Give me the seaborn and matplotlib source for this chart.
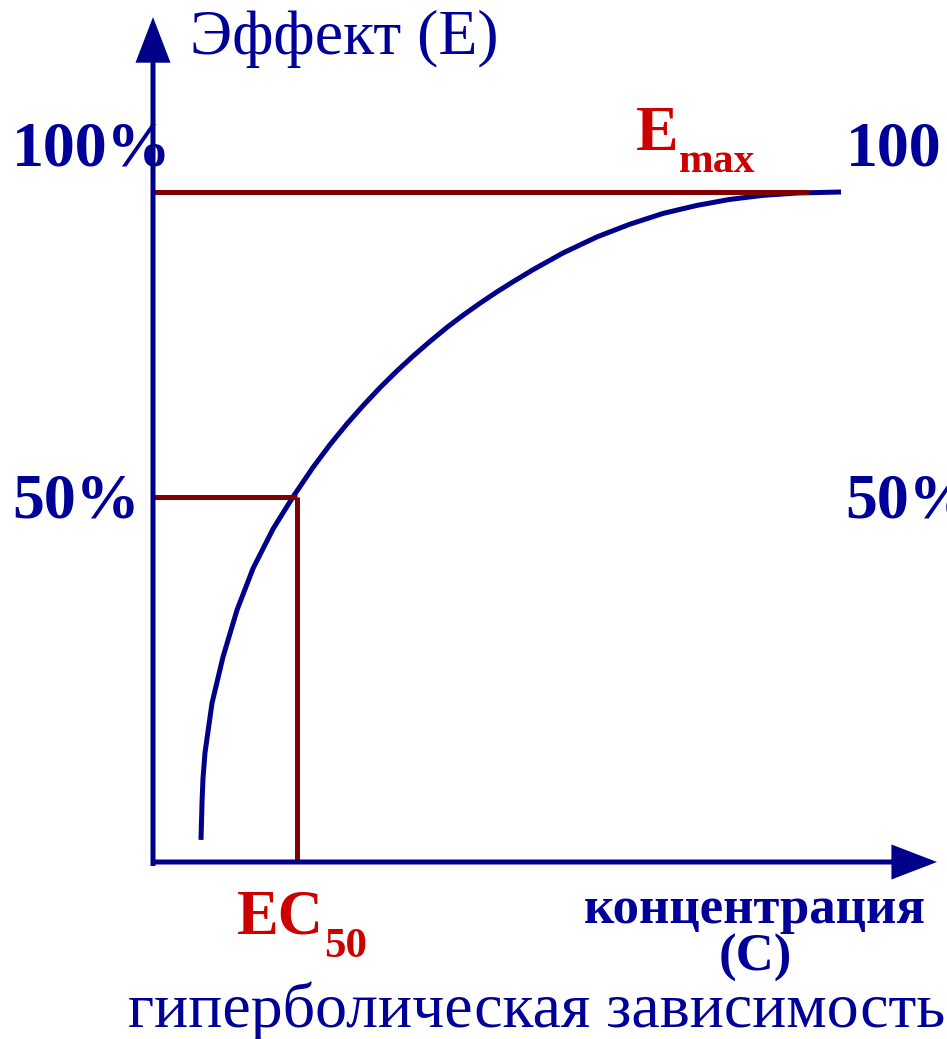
import matplotlib
matplotlib.use("Agg")
import matplotlib.pyplot as plt
import seaborn as sns
import pandas as pd

# ---- data (concentration in arbitrary units, effect in % of Emax) ----
concentration = [46, 47, 48, 50, 57, 68, 82, 98, 118, 138, 158, 175, 192, 208,
                 225, 242, 258, 275, 292, 308, 325, 342, 358, 378, 408, 442,
                 475, 508, 542, 575, 608, 642, 686]
effect = [3.3, 8.8, 12.5, 16.3, 23.7, 30.6, 37.6, 43.8, 49.7, 54.5, 58.9, 62.3,
          65.4, 68.1, 70.8, 73.3, 75.5, 77.7, 79.8, 81.6, 83.4, 85.1, 86.6,
          88.4, 90.9, 93.3, 95.2, 96.8, 98.0, 98.9, 99.5, 99.85, 100.0]
emax_level = 100.0
emax_line_end = 654
half_level = 54.5
ec50 = 142
axis_origin = -2
x_axis_tip = 782
y_axis_tip = 126.1

tick_labels = ["100%", "50%"]
title_y = "Эффект (E)"
title_x = ["концентрация", "(C)"]
caption = "гиперболическая зависимость"

sns.set_theme(style="white")
plt.rcParams["font.family"] = ["Liberation Serif", "DejaVu Serif"]

NAVY = "#000088"
TEXT_NAVY = "#000099"
DARKRED = "#800000"
RED = "#CC0000"
LW = 3.6

W, H = 947, 1039
SCALE = 6.70


def X(px):
    return px - 155


def Y(py):
    return (862 - py) / SCALE


fig = plt.figure(figsize=(W / 100, H / 100), dpi=100)
ax = fig.add_axes([0, 0, 1, 1])
ax.set_xlim(X(0), X(W))
ax.set_ylim(Y(H), Y(0))
ax.axis("off")

df = pd.DataFrame({"C": concentration, "E": effect})
sns.lineplot(data=df, x="C", y="E", ax=ax, color=NAVY, lw=LW, sort=False,
             solid_capstyle="butt", solid_joinstyle="round", zorder=3)

# guide lines
ax.plot([axis_origin, emax_line_end], [emax_level, emax_level], color=DARKRED,
        lw=LW, solid_capstyle="butt", zorder=4)
ax.plot([axis_origin, ec50], [half_level, half_level], color=DARKRED, lw=LW,
        solid_capstyle="butt", zorder=4)
ax.plot([ec50, ec50], [half_level, 0], color=DARKRED, lw=LW,
        solid_capstyle="butt", zorder=4)

# axes with arrows
arrow_kw = dict(arrowstyle="-|>,head_length=26,head_width=10", color=NAVY,
                lw=LW, shrinkA=0, shrinkB=0, mutation_scale=1,
                joinstyle="miter", capstyle="butt")
ax.annotate("", xy=(axis_origin, y_axis_tip), xytext=(axis_origin, Y(866)),
            arrowprops=arrow_kw, zorder=5)
ax.annotate("", xy=(x_axis_tip, 0), xytext=(X(151), 0),
            arrowprops=arrow_kw, zorder=5)

# texts
ax.text(X(190), Y(54), title_y, fontsize=46, color=TEXT_NAVY, va="baseline",
        ha="left", zorder=2)
ax.text(X(12), Y(166), tick_labels[0], fontsize=46, fontweight="bold",
        color=TEXT_NAVY, va="baseline", ha="left", zorder=2)
ax.text(X(846), Y(166), tick_labels[0], fontsize=46, fontweight="bold",
        color=TEXT_NAVY, va="baseline", ha="left", zorder=2)
ax.text(X(12), Y(518), tick_labels[1], fontsize=46, fontweight="bold",
        color=TEXT_NAVY, va="baseline", ha="left", zorder=2)
ax.text(X(845), Y(518), tick_labels[1], fontsize=46, fontweight="bold",
        color=TEXT_NAVY, va="baseline", ha="left", zorder=2)

ax.text(X(636), Y(150), "E", fontsize=46, fontweight="bold", color=RED,
        va="baseline", ha="left")
ax.text(X(679), Y(172), "max", fontsize=30, fontweight="bold", color=RED,
        va="baseline", ha="left")
ax.text(X(237), Y(933), "EC", fontsize=45, fontweight="bold", color=RED,
        va="baseline", ha="left")
ax.text(X(324), Y(957), "50", fontsize=31, fontweight="bold", color=RED,
        va="baseline", ha="left")

ax.text(X(755), Y(923), title_x[0], fontsize=38, fontweight="bold",
        color=TEXT_NAVY, va="baseline", ha="center")
ax.text(X(755), Y(971), title_x[1], fontsize=38, fontweight="bold",
        color=TEXT_NAVY, va="baseline", ha="center")
ax.text(X(128), Y(1027), caption, fontsize=46, color=TEXT_NAVY,
        va="baseline", ha="left")

fig.savefig("out.png", dpi=100, facecolor="white")
